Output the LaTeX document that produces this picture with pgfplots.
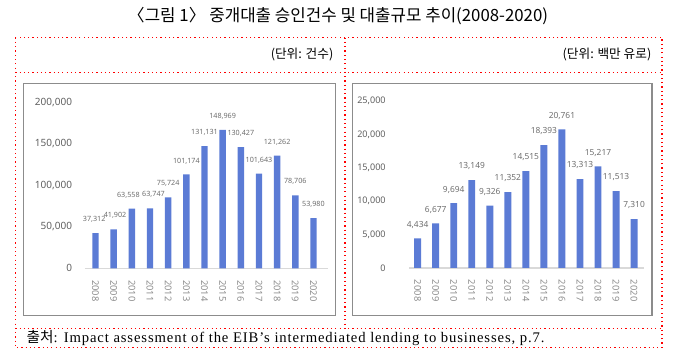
\documentclass[border=0pt]{standalone}
\usepackage{pgfplots}
\pgfplotsset{compat=1.18}
\usepackage{pgfplotstable}
\usepackage{fontspec}
\setmainfont{Liberation Serif}
\newfontfamily\kr{Noto Sans CJK KR}
\newfontfamily\nums{Noto Sans}
\definecolor{barblue}{RGB}{91,123,213}
\definecolor{framegray}{RGB}{140,140,140}
\definecolor{ticktxt}{RGB}{95,95,95}
\definecolor{xtxt}{RGB}{140,140,140}
\definecolor{labtxt}{RGB}{110,110,110}
\definecolor{basegray}{RGB}{217,217,217}

% left: bar heights as drawn, printed labels, label nudge (pt)
\pgfplotstableread{
x h lab dx
0 42200 37312 -1
1 47000 41902 1
2 72000 63558 -2.6
3 72200 63747 2.6
4 85300 75724 0
5 113000 101174 0
6 147200 131131 0
7 166800 148969 0
8 146000 130427 0
9 114000 101643 0
10 135600 121262 0
11 87800 78706 0
12 60300 53980 0
}\eibcount

\pgfplotstableread{
x h lab dx
0 4434 4434 0
1 6677 6677 0
2 9694 9694 0
3 13149 13149 0
4 9326 9326 0
5 11352 11352 0
6 14515 14515 0
7 18393 18393 0
8 20761 20761 0
9 13313 13313 0
10 15217 15217 0
11 11513 11513 0
12 7310 7310 0
}\eibvol

\pgfplotsset{
  eibstyle/.style={
    scale only axis, clip=false, ybar,
    axis line style={draw=none},
    major tick length=0pt,
    ymin=0,
    xtick={0,...,12},
    xticklabels={2008,2009,2010,2011,2012,2013,2014,2015,2016,2017,2018,2019,2020},
    xticklabel style={font=\nums\fontsize{7}{8}\selectfont, color=xtxt, rotate=-90, anchor=west, inner sep=0pt, outer xsep=9pt},
    scaled y ticks=false,
    extra y ticks={0}, extra y tick labels={},
    extra y tick style={grid=major, major grid style={color=basegray, line width=0.8pt}},
    nodes near coords={\pgfmathprintnumber{\pgfplotspointmeta}},
    point meta=explicit,
    /pgf/number format/fixed,
    /pgf/number format/precision=0,
    /pgf/number format/1000 sep={,},
    /pgf/number format/assume math mode=true,
  }
}

\begin{document}
\begin{tikzpicture}
\begin{scope}[x=0.75pt,y=-0.75pt]
  % title
  \node[font=\kr\fontsize{12.6}{14}\selectfont] at (338,16) {〈그림 1〉 중개대출 승인건수 및 대출규모 추이(2008-2020)};
  % red dotted frame
  \begin{scope}[red, line width=0.8pt, dash pattern=on 0.9pt off 2.3pt]
    \draw (15.3,37.7) rectangle (662,347.3);
    \draw (15.3,72.3) -- (662,72.3);
    \draw (15.3,328.7) -- (662,328.7);
    \draw (345,37.7) -- (345,328.7);
  \end{scope}
  % unit texts
  \node[anchor=east, font=\kr\fontsize{9.5}{11}\selectfont] at (338,55) {(단위: 건수)};
  \node[anchor=east, font=\kr\fontsize{9.5}{11}\selectfont] at (656,55) {(단위: 백만 유로)};
  % gray chart boxes
  \draw[framegray, line width=1pt] (23.3,83.5) rectangle (335.7,315.7);
  \draw[framegray, line width=1pt] (352.7,83.5) rectangle (652,315.7);
  % source
  \node[anchor=west, font=\fontsize{11}{12}\selectfont\addfontfeature{LetterSpace=6}] at (22,338) {{\kr 출처}: Impact assessment of the EIB’s intermediated lending to businesses, p.7.};
\end{scope}

\begin{axis}[eibstyle,
  at={(63.75pt,-201.2pt)}, anchor=south west,
  width=182.25pt, height=124.5pt,
  xmin=-0.58, xmax=12.8,
  ymax=200000, ytick={0,50000,100000,150000,200000},
  yticklabel style={font=\nums\fontsize{7.5}{9}\selectfont, color=ticktxt, anchor=east, inner sep=0pt, outer xsep=9.75pt},
  bar width=4.8pt,
  visualization depends on={\thisrow{dx} \as \labdx},
  every node near coord/.append style={font=\nums\fontsize{5.4}{6}\selectfont, color=labtxt, anchor=base, inner sep=0pt, yshift=8.6pt, xshift=\labdx pt},
]
\addplot[fill=barblue, draw=none] table[x=x, y=h, meta=lab] {\eibcount};
\end{axis}

\begin{axis}[eibstyle,
  at={(306.75pt,-201pt)}, anchor=south west,
  width=176.25pt, height=125.25pt,
  xmin=-0.48, xmax=12.55,
  ymax=25000, ytick={0,5000,10000,15000,20000,25000},
  yticklabel style={font=\nums\fontsize{6.8}{8}\selectfont, color=ticktxt, anchor=east, inner sep=0pt, outer xsep=17.5pt},
  bar width=5.2pt,
  every node near coord/.append style={font=\nums\fontsize{6.3}{7}\selectfont, color=labtxt, anchor=base, inner sep=0pt, yshift=8.4pt},
]
\addplot[fill=barblue, draw=none] table[x=x, y=h, meta=lab] {\eibvol};
\end{axis}

\pgfresetboundingbox
\path[use as bounding box] (0,0) rectangle (507pt,-272.25pt);
\end{tikzpicture}
\end{document}
